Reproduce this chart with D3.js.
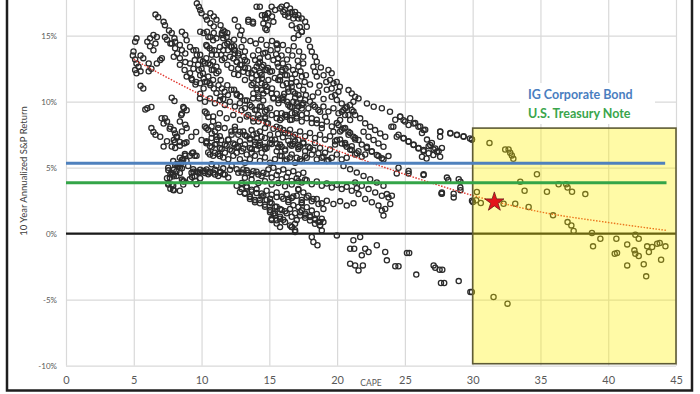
<!DOCTYPE html>
<html>
<head>
<meta charset="utf-8">
<script src="https://cdn.jsdelivr.net/npm/d3@7"></script>
<style>
  body { margin: 0; background: #fff; }
  svg { display: block; }
</style>
</head>
<body>
<svg id="chart" width="700" height="394"></svg>
<script>
// ticks
var xTicks = [0, 5, 10, 15, 20, 25, 30, 35, 40, 45];
var yTicks = [-10, -5, 0, 5, 10, 15, 20];

// reference yields (%)
var igCorporateBond = 5.33;
var treasuryNote = 3.86;

// today's CAPE and the implied return
var currentCape = 31.6;
var currentReturn = 2.4;

// shaded zone
var zoneCape = [30, 45];
var zoneReturn = [-9.85, 8];

// trend curve [CAPE, return %]
var trendPoints = [[5, 13.2], [10, 10.5], [15, 8.2], [20, 6.3], [25, 4.5], [30, 2.9], [35, 1.65], [40, 0.85], [44.3, 0.25]];

// scatter: [CAPE, 10y annualized return %]
var pointsLeft = [
  [5.1,14.55],[5.2,14.8],[4.98,13.8],[4.93,13.5],[5.1,13.2],[5.2,12.9],[5.35,12.65],[5.1,12.4],[5.5,12.3],[5.2,12.15],
  [5.5,13.5],[5.7,13.3],[6.1,12.9],[5.5,11.2],[5.7,11.0],[6.1,12.3],[6.3,12.5],[6.0,14.55],[6.2,14.8],[6.45,15.05],
  [6.7,14.9],[6.6,14.4],[6.2,14.2],[6.45,13.9],[6.7,12.9],[6.95,13.15],[7.07,13.3],[6.6,16.6],[6.8,16.4],[7.2,16.05],
  [7.3,15.8],[7.6,15.4],[7.8,15.2],[8.0,14.8],[8.05,14.55],[7.3,14.9],[7.45,14.7],[7.7,14.4],[6.0,9.5],[6.3,9.6],
  [5.85,9.4],[7.8,10.3],[8.0,10.05],[7.3,8.75],[7.45,8.5],[7.2,8.35],[8.7,9.5],[8.55,9.1],[6.3,8.0],[6.45,7.7],
  [6.6,7.5],[6.95,7.35],[7.2,6.6],[7.45,7.0],[7.7,8.1],[7.95,7.85],[8.05,7.6],[8.2,7.35],[7.95,7.1],[7.8,6.6],
  [8.05,6.5],[8.4,8.5],[8.8,8.25],[8.9,8.0],[8.55,7.75],[8.7,6.85],[8.4,5.75],[8.8,5.9],[8.55,5.6],[9.3,6.1],
  [9.5,5.9],[7.55,4.8],[7.7,4.5],[7.95,4.35],[7.45,4.2],[7.55,3.8],[7.8,3.7],[7.7,3.4],[7.95,3.3],[8.3,5.1],
  [8.55,4.95],[8.4,4.6],[8.55,4.1],[8.7,3.95],[8.05,5.2],[7.95,4.85],[9.4,4.7],[9.65,4.7],[9.9,4.85],[10.25,4.6],
  [10.6,4.7],[11.0,4.85],[11.4,4.7],[11.6,4.95],[12.1,4.85],[9.3,4.3],[9.55,4.0],[9.9,4.2],
  [7.05,8.75],[7.65,7.95],[8.15,7.35],[8.4,6.95],[8.75,6.85]
];

var pointsUpper = [
  [9.65,17.45],[9.8,17.2],[9.9,16.95],[10.0,16.7],[10.3,16.45],[10.4,16.2],[10.65,15.95],[10.9,15.7],[10.65,16.7],[10.9,16.45],
  [11.1,16.2],[11.4,15.8],[11.6,15.4],[9.9,15.3],[10.15,15.2],[10.4,15.3],[10.65,14.9],[10.9,15.2],[11.1,14.8],[11.5,15.05],
  [11.9,15.2],[12.4,14.7],[8.55,15.3],[8.8,15.05],[8.9,14.65],[8.4,14.3],[8.55,13.9],[8.8,13.65],[9.15,14.15],[9.4,13.9],
  [9.65,13.55],[7.8,14.4],[8.05,14.05],[8.2,13.65],[7.95,13.4],[8.4,13.3],[8.8,13.0],[9.15,12.9],[9.4,12.5],[9.8,12.4],
  [9.9,12.0],[10.15,11.75],[10.4,11.5],[10.65,11.25],[10.9,11.0],[9.9,13.15],[10.25,12.9],[10.65,12.8],[10.9,12.4],[11.1,12.15],
  [11.4,11.65],[10.4,14.2],[10.75,13.9],[11.1,13.55],[11.5,13.15],[11.9,12.8],[12.2,12.55],[9.9,11.4],[10.15,11.0],[9.9,10.6],
  [8.9,11.9],[9.3,11.65],[9.55,11.3],[11.1,10.65],[11.4,10.4],[11.6,10.2],[11.9,11.25],[12.4,10.9],[12.6,10.5],[12.4,13.9],
  [12.7,13.5],[12.6,13.0],[12.7,12.5],[12.4,12.1],[11.9,14.4],[12.4,14.2],
  [11.5,15.2],[11.7,15.3],[11.6,14.8],[11.85,14.9],[12.0,14.55],[11.7,14.3],[11.35,14.15],[11.6,13.9],[11.95,13.9],[12.2,14.15],
  [12.45,13.65],[12.1,13.4],[11.7,13.3],[11.45,13.55],[10.5,14.9],[10.85,14.65],[10.35,14.3],[10.6,14.05],[10.95,13.9],[10.75,13.55],
  [10.35,13.3],[10.1,13.05],[10.5,12.9],[10.85,13.05],[11.1,12.65],[10.75,12.4],[11.25,12.3],[9.6,13.9],[9.9,13.55],[9.5,13.15],
  [9.75,12.8],[10.0,12.5],[10.1,12.15],[10.5,11.9],[10.25,11.5],[10.6,11.4],[10.85,11.65],[11.25,11.25],[11.5,11.0],[11.7,10.75],
  [11.95,10.5],[12.2,10.9],[12.6,10.6],[12.85,10.4],[13.2,10.1],[8.4,12.8],[8.75,12.4],[9.15,12.15],[9.25,11.75],[9.6,11.5],
  [12.45,16.2],[12.7,15.7],[12.95,15.4],[12.85,15.05],[13.1,14.65],[12.95,14.15],[13.2,13.8],[13.1,13.4],[13.35,13.05],[12.85,12.8],
  [13.2,12.55],[13.45,12.15],[13.7,11.8],[13.2,11.65],[13.95,13.15],[14.2,12.9],[14.45,12.65],[14.7,12.4],[14.9,12.55],[15.2,12.3],
  [14.05,12.0],[14.45,11.75],[13.45,16.2],[13.8,16.05],[14.45,16.55],[14.7,16.3],[14.9,16.7],[15.2,16.45],[15.3,16.05],[14.9,15.8],
  [14.7,15.55],[15.9,17.2],[16.15,16.95],[16.4,16.7],[16.65,16.8],[16.9,16.55],[17.15,16.3],[17.25,15.65],[17.4,15.3],[17.15,15.05],
  [16.8,14.8],[15.55,14.4],
  [13.6,14.6],[14.0,14.4],[14.4,14.7],[14.8,14.3],[15.2,14.6],[15.6,14.0],[16.0,14.3],[16.4,13.9],[16.8,14.2],[17.2,13.8],
  [13.8,13.5],[14.3,13.3],[14.7,13.7],[15.1,13.9],[15.5,13.6],[15.9,13.5],[16.3,13.2],[16.7,13.5],[17.1,13.1],[17.5,13.4],
  [13.9,12.4],[14.3,12.2],[15.6,12.9],[16.2,12.5],[16.9,12.1],[17.3,12.3],[17.7,12.0],[15.4,11.8],[15.8,11.9],[16.6,11.4],
  [17.2,11.2],[17.6,11.5],[18.0,11.3],[14.1,10.9],[14.8,10.8],[15.3,10.3],[16.1,10.6],[16.9,10.3],[17.7,10.5],[18.2,10.4],
  [18.6,10.7],[19.0,10.2],[18.8,12.6],[19.0,12.0],[19.2,11.5],[18.7,11.2]
];

var pointsCore = [
  [14.2,13.9],[14.55,13.65],[14.9,13.4],[15.3,13.15],[15.65,13.3],[16.0,12.9],[16.4,12.65],[16.75,12.4],[17.15,12.65],[17.5,12.9],
  [15.95,12.4],[16.3,12.0],[16.65,11.75],[17.0,11.5],[17.4,11.9],[15.65,11.65],[16.0,11.25],[16.4,11.0],[16.75,10.75],[17.15,10.5],
  [17.5,10.9],[15.2,11.0],[15.55,10.6],[15.9,10.25],[16.3,10.0],[16.65,9.6],[17.0,9.34],[17.4,9.75],[12.85,10.4],[13.35,10.1],
  [13.8,10.25],[14.2,10.4],[14.55,10.1],[12.95,9.35],[13.45,9.0],[13.8,8.75],[14.2,8.5],[14.7,8.85],[14.9,8.35],[15.3,7.95],
  [15.65,7.55],[16.0,7.3],[16.4,7.05],[16.75,6.8],[17.15,6.55],[17.5,6.9],[10.25,9.25],[10.5,8.85],[10.85,8.5],[11.25,8.25],
  [11.7,8.0],[12.2,7.75],[10.35,8.0],[10.75,7.6],[11.1,7.35],[11.45,7.1],[10.0,7.1],[10.35,6.85],[9.6,7.7],[9.25,7.35],
  [8.65,9.6],[8.9,9.35],[8.5,9.0],
  [13.69,9.62],[14.06,9.37],[14.43,9.62],[14.8,9.37],[14.19,8.99],[14.68,8.74],[15.17,8.99],[15.54,8.74],[15.91,9.12],[16.28,8.86],
  [16.65,9.12],[17.02,8.74],[17.39,8.99],[12.46,8.11],[12.83,7.73],[13.2,7.47],[13.57,7.22],[13.94,6.97],[14.31,6.72],[14.68,6.59],
  [15.17,7.1],[15.54,6.84],[15.91,6.59],[13.69,7.85],[14.06,7.6],[14.43,7.35],[11.97,7.1],[12.34,6.84],[12.71,6.59],[13.08,6.46],
  [13.69,11.26],[14.06,11.01],[14.43,11.39],[14.8,11.14],[15.17,10.63],[13.82,10.63],[14.19,10.25],[14.56,10.63],
  [12.22,14.17],[12.46,13.91],[12.71,13.66],[12.34,13.28],[12.59,13.03],[12.96,12.78],[13.2,13.16],[13.45,12.53],[13.08,12.27],[12.71,12.02],
  [13.7,12.15],[14.06,12.65],[14.31,13.03],[14.56,12.78],[14.8,12.4],[14.43,12.02],[14.19,11.64],[13.82,11.39],[15.05,12.27],[14.93,11.64],
  [14.68,11.26],[14.43,10.88],
  [15.67,12.65],[15.91,12.27],[16.16,12.02],[15.79,11.64],[16.28,11.39],[16.65,11.14],[16.4,10.76],[16.03,10.38],[15.67,10.13],[16.9,10.63],
  [17.27,10.25],[17.64,10.13],[18.0,10.0],[18.37,9.62],[18.74,9.24],[19.11,8.86],[17.02,9.87],[17.39,9.49],[17.76,9.12],[18.13,8.74],
  [18.5,8.36],[18.87,7.98],[16.53,9.62],[16.9,9.12],[16.53,8.61],[16.16,8.99],[15.79,8.61],[15.54,8.11],[16.03,7.85],[16.4,7.6],
  [16.77,7.35],[17.14,7.1],[17.51,6.84],[17.88,6.59],[18.25,6.34],[18.62,6.09],[18.99,5.83],[19.36,5.58],
  [19.6,10.38],[19.98,10.13],[20.34,9.87],[20.71,9.62],[21.08,9.37],[20.59,8.99],[20.22,8.61],[20.96,8.61],[21.33,8.99],[21.7,8.74],
  [22.07,8.36],[22.44,8.11],[22.8,7.85],[23.18,7.6],[23.55,7.35],[21.95,7.73],[22.32,7.35],[22.69,7.1],[23.05,6.84],[23.42,6.59],
  [21.58,7.1],[21.2,7.35],[20.84,7.73],[20.47,7.98],[20.1,8.23],[19.73,7.73],[19.98,7.1],[20.34,6.84],[20.71,6.59],[21.08,6.34],
  [21.45,6.09],[21.82,5.83],[22.2,6.59],[22.56,6.21],[22.93,5.96],[23.3,5.71]
];

var pointsMiddle = [
  [10.25,8.13],[10.49,7.88],[10.74,8.13],[10.99,7.75],[11.23,8.0],[11.35,7.38],[11.11,7.13],[10.74,7.25],[10.37,7.0],[10.62,6.63],
  [10.99,6.75],[11.35,6.5],[11.72,6.75],[11.97,7.13],[12.22,7.5],[12.46,7.88],[12.71,7.5],[13.08,7.75],[13.33,7.38],[13.57,7.13],
  [13.82,7.5],[14.06,7.25],[14.31,6.88],[13.94,6.75],[13.57,6.5],[13.2,6.75],[12.83,7.0],[12.46,6.75],[12.09,6.38],[11.72,6.13],
  [11.35,5.88],[10.99,6.13],[10.62,6.0],[12.59,6.13],[12.96,6.25],[13.33,6.0],[13.69,6.13],[14.06,6.38],[14.43,6.13],[14.8,6.5],
  [15.05,6.88],[14.68,7.25],[14.31,7.75],[14.68,8.0],[15.05,7.5],[15.42,7.13],[15.79,6.75],[16.16,6.38],[16.53,6.75],[16.9,7.0],
  [17.27,6.63],[17.64,6.25],[18.0,6.5],[18.37,6.88],[18.74,6.5],[19.11,6.13],[19.48,6.38],[19.85,6.75],[20.22,7.13],[20.59,6.75],
  [20.96,6.38],[21.33,6.0],[15.54,6.25],[15.91,5.88],[16.28,5.63],[16.65,6.0],[17.02,5.75],[17.39,5.5],[17.76,5.75],[18.13,6.0],
  [18.5,5.63],[18.87,5.75],[19.24,5.5],[19.61,5.75],[19.98,6.0],[20.34,5.63],[20.71,5.75],
  [15.3,10.25],[15.67,9.88],[16.03,10.13],[16.4,9.75],[16.77,10.0],[17.14,9.63],[17.51,9.88],[17.88,9.5],[18.25,9.75],[18.62,9.38],
  [18.99,9.63],[19.36,9.25],[19.73,9.5],[20.1,9.13],[20.47,9.38],[20.84,9.0],[21.21,9.25],[15.54,9.13],[15.91,8.75],[16.28,9.0],
  [16.65,8.63],[17.02,8.88],[17.39,8.5],[17.76,8.75],[18.13,8.38],[18.5,8.63],[18.87,8.25],[19.24,8.5],[19.61,8.13],[19.98,8.38],
  [15.79,8.0],[16.16,7.63],[16.53,7.88],[16.9,7.5],[17.27,7.75],[17.64,7.38],[18.0,7.63],[18.37,7.25],[18.74,7.5],[19.11,7.13],
  [19.48,7.38],[19.85,7.0],[20.22,7.75],[20.59,8.0],[20.96,7.63],[21.33,7.25],
  [9.88,10.25],[10.25,10.0],[10.62,10.25],[10.99,9.88],[11.35,10.13],[11.72,9.75],[12.09,10.0],[12.46,9.63],[12.83,9.88],[13.2,9.5],
  [13.57,9.75],[13.94,9.38],[14.31,9.63],[14.68,9.25],[15.05,9.5],[10.37,9.13],[10.86,8.88],[11.35,9.13],[11.85,8.75],[12.34,9.0],
  [12.83,8.63],[13.33,8.88],[13.82,8.5],[14.31,8.75],[14.8,8.38]
];

var pointsUpperRight = [
  [14.06,17.2],[14.3,17.2],[14.68,16.57],[14.93,16.7],[15.17,17.2],[15.42,16.95],[15.79,17.07],[16.03,16.8],[16.28,17.3],[16.53,17.07],
  [16.9,16.8],[17.14,16.57],[17.39,16.3],[17.64,16.06],[17.76,15.68],[17.39,15.3],[17.02,15.55],[16.65,15.8],[16.77,16.3],[16.4,16.44],
  [16.16,16.57],[14.8,16.3],[14.56,15.93],[14.8,15.43],[13.45,16.06],[13.8,15.93],
  [17.88,14.67],[18.0,14.17],[18.13,13.79],[18.37,13.4],[18.5,13.03],[18.25,12.65],[18.37,12.27],[18.5,11.9],[15.54,14.3],
  [19.36,12.4],[19.6,12.15],[19.48,11.64],[19.73,11.4],[19.97,11.5],[20.2,11.14],[20.1,10.76],[19.85,10.5],[19.24,10.9],[19.6,11.0],
  [20.84,10.88],[21.08,10.63],[21.33,10.38],[21.58,10.25],[21.2,10.0],[20.96,9.75],[20.6,9.5],[20.35,9.24],
  [22.2,9.87],[22.7,9.62],[23.3,9.5],[23.9,9.24],
  [24.15,8.1],[24.64,8.86],[24.9,8.6],[25.27,8.23],[25.64,8.35],[26.0,8.1],[26.38,7.85],
  [27.6,7.72],[28.35,7.6],[28.84,7.47],[29.33,7.35],[27.6,7.35],[29.8,7.22],
  [24.4,7.35],[24.9,7.22],[25.27,6.97],[25.64,6.72],[26.0,6.46],[26.38,6.34],[26.75,6.09],[27.1,5.96],[27.36,6.2],[26.87,6.72],
  [27.24,6.46],[26.26,5.83],[26.6,5.7],[27.6,5.83],[24.4,4.57],[25.27,4.57],[26.38,4.44],[28.2,4.06],[29.1,3.94],[27.7,3.05],
  [29.1,3.3],[24.0,8.1],
  [24.29,8.63],[24.66,8.88],[25.02,8.5],[25.39,8.75],[25.76,8.38],[26.13,8.13],[24.53,7.5],[24.9,7.25],[25.27,7.0],[25.64,6.75],
  [26.01,6.5],[26.38,6.25],[26.75,6.63],[27.12,6.38],[27.49,6.25],[27.73,6.5],[26.63,7.13],[26.99,6.88],[26.26,7.63],[26.5,7.88],
  [28.35,7.63],[28.84,7.5]
];

var pointsLower = [
  [7.54,5.0],[7.78,4.62],[7.66,4.23],[7.9,4.49],[8.15,4.74],[8.4,5.0],[7.54,3.72],[7.9,3.33],[8.65,3.72],[8.15,5.26],
  [8.52,5.38],[8.89,5.51],[9.14,5.9],[9.38,6.15],[9.63,5.9],[9.26,4.62],[9.5,4.36],[9.88,4.62],[10.25,4.74],[10.62,4.62],
  [10.99,4.49],[11.35,4.62],[11.72,4.49],[11.1,5.13],[10.74,5.26],[10.37,4.87],[8.77,6.03],[8.03,6.92],[8.4,6.67],[8.89,6.92],
  [10.37,6.92],[10.74,6.54],[11.1,6.79],[11.48,6.41],[11.85,6.67],[12.22,6.28],[12.59,6.54],[10.49,6.15],[10.86,5.9],[11.23,6.03],
  [11.6,5.77],[11.97,5.64],[12.34,5.9],
  [12.71,4.62],[13.08,4.87],[13.45,4.62],[13.82,4.74],[14.19,4.49],[14.56,4.62],[14.93,4.87],[15.3,5.0],[15.67,4.74],[16.03,4.87],
  [16.4,4.62],[16.77,4.74],[17.14,4.49],[17.51,4.62],
  [12.96,3.85],[13.33,3.59],[13.69,3.33],[14.06,3.08],[14.43,2.82],[14.8,2.56],[15.17,2.31],[15.54,2.05],[15.91,1.79],[16.28,1.54],
  [16.65,1.28],[17.02,1.03],[13.2,3.08],[13.57,2.82],[13.94,2.56],[14.31,2.31],[14.68,2.05],[15.05,1.79],[15.42,1.54],[15.79,1.28],
  [15.17,1.03],[15.54,0.77],[16.65,0.51],[16.9,0.26],[17.14,3.33],[16.77,2.82],[16.4,2.56],[17.39,2.31],
  [12.83,5.64],[13.2,5.38],[13.57,5.64],[13.94,5.9],[14.31,5.51],[14.68,5.77],[15.05,5.38],[15.42,5.64],[15.79,5.9],[16.16,5.51],
  [16.53,5.77],[16.9,5.38],[17.27,5.64],[17.64,5.9],[13.69,6.41],[14.19,6.67],[14.68,6.41],[15.17,6.79],[15.67,6.54],[16.16,6.28],
  [16.65,6.67],[17.14,6.41],
  [13.2,4.23],[13.69,4.1],[14.19,3.85],[14.68,3.97],[15.17,3.72],[15.67,3.85],[16.16,3.59],[16.65,3.72],[17.14,3.97],[17.64,4.1],
  [17.14,3.38],[17.51,3.13],[17.88,2.88],[18.25,2.63],[18.62,2.25],[18.99,1.88],[17.39,2.38],[17.76,2.0],[18.13,1.75],[18.5,1.5],
  [18.87,1.13],[17.27,1.63],[17.64,1.38],[18.0,1.0],[18.37,0.75],[18.74,0.63],
  [20.34,7.88],[20.84,7.5],[21.33,7.13],[21.82,6.75],[22.19,6.5],[22.56,6.25],[23.05,5.88],[23.42,5.63],[23.79,5.88],[20.59,6.88],
  [21.08,6.63],[21.58,6.25],[22.07,6.0],[20.47,5.13],[20.96,4.88],[21.45,4.63],[21.95,4.38],[22.44,4.13],[22.93,3.88],[23.42,3.63],
  [21.33,3.88],[21.82,3.63],[22.32,3.38],[22.81,3.13],[23.3,2.88],[23.79,2.75],[21.58,3.0],[22.07,2.63],[22.56,2.38],[23.05,2.13],
  [23.55,1.88],[23.92,2.25],[24.04,2.88],[23.3,1.75],[23.42,1.38],[23.67,3.0],
  [24.53,5.0],[25.27,4.75],[26.38,4.5],[27.73,3.13],[28.1,4.25],[28.6,2.75],[28.97,4.13],[29.09,3.5],[29.95,2.5],
  [27.61,7.75],[29.33,7.38],[29.95,7.13],
  [15.05,1.77],[15.3,1.52],[15.17,1.14],[15.54,1.01],[16.03,1.06],[16.65,0.51],[16.9,0.13],[18.13,-0.25],[18.25,-0.63],[18.55,-0.88],
  [18.87,0.25],[18.74,0.63],[18.99,0.88],[18.62,0.88],[18.37,1.14],[18.0,1.26],[17.64,1.52],[17.39,1.77],[17.14,2.02],[16.77,2.15],
  [16.4,2.4],[16.03,2.65],[15.54,2.78],[15.05,2.65],[14.56,2.9],[13.94,2.53],[13.57,2.78],[13.2,3.03],[12.83,3.16]
];

var pointsBand = [
  [12.22,5.13],[12.59,4.88],[12.96,4.63],[13.33,4.8],[13.69,4.5],[14.06,4.7],[14.43,4.38],[14.8,4.55],[15.17,4.25],[15.54,4.45],
  [15.91,4.13],[16.28,4.3],[16.65,4.0],[17.02,4.2],[17.39,3.88],[17.76,4.05],[18.13,3.75],[18.5,3.95],[18.87,3.63],[19.24,3.8],
  [19.61,3.5],[19.98,3.7],[20.34,3.38],[20.71,3.55],[21.08,3.25],[21.45,3.45],
  [12.59,3.63],[12.96,3.38],[13.33,3.5],[13.69,3.2],[14.06,3.38],[14.43,3.05],[14.8,3.25],[15.17,2.95],[15.54,3.13],[15.91,2.8],
  [16.28,3.0],[16.65,2.7],[17.02,2.88],[17.39,2.55],[17.76,2.75],[18.13,2.45],[18.5,2.63],[18.87,2.3],[19.24,2.5],[19.73,2.25],
  [20.22,2.45],[20.71,2.13],[21.21,2.3],
  [13.57,2.63],[13.94,2.38],[14.31,2.55],[14.68,2.2],[15.05,2.38],[15.42,2.05],[15.79,1.88],[16.16,1.7],[16.53,1.88],[16.9,1.55],
  [17.27,1.38],[17.64,1.2],[18.0,1.38],[18.37,1.05],[18.74,0.88],[15.05,1.63],[15.42,1.38],[15.79,1.13],[16.16,0.88],[16.53,0.63],
  [16.9,0.75],[15.79,0.5],
  [7.91,5.5],[8.28,5.25],[8.65,5.63],[9.01,5.13],[9.38,4.88],[9.75,4.63],[10.12,4.75],[10.49,4.5],[10.86,4.63],[11.23,4.38],
  [11.6,4.5],[11.97,4.25],[8.15,4.38],[8.65,4.0],[9.14,4.13],[9.63,3.75],[7.91,3.63],[8.4,3.25]
];

var pointsNegative = [
  [19.98,-0.13],[21.2,-0.5],[21.7,-0.25],[20.96,-1.14],[21.26,-1.14],[22.07,-1.14],[22.32,-1.39],[21.82,-1.64],[22.93,-0.88],[23.55,-1.39],
  [23.67,-2.02],[24.29,-2.47],[24.53,-2.47],[25.15,-1.46],[25.32,-1.46],[20.96,-2.27],[21.33,-2.4],[21.58,-2.78],[21.9,-2.4],[25.84,-3.1],
  [27.12,-2.4],[27.24,-2.58],[27.56,-2.73],[27.76,-2.73],[27.66,-3.74],[27.9,-3.74],[28.97,-3.59],[29.83,-4.42],[28.6,3.03],[27.73,3.03]
];

var pointsZone = [
  [29.94,7.13],[31.24,6.88],[32.4,6.38],[32.65,6.38],[32.77,6.13],[32.89,5.93],[33.0,5.68],[34.74,4.5],[33.51,3.93],[33.83,3.25],
  [35.48,3.18],[36.34,3.75],[36.9,3.75],[37.0,3.5],[37.33,3.18],[38.31,3.0],[30.31,3.16],[30.02,2.4],[30.26,2.53],[30.6,2.33],
  [32.28,2.27],[33.14,2.27],[34.13,2.02],[35.93,1.39],[37.0,0.88],[37.28,0.63],[37.45,0.2],[38.8,0.05],[39.42,-0.38],[38.88,-0.96],
  [40.6,-0.38],[41.4,-0.81],[40.48,-1.52],[40.65,-1.46],[41.4,-2.4],[42.0,-0.08],[42.25,-0.38],[41.93,-1.26],[42.0,-1.52],[42.25,-1.69],
  [42.62,-2.32],[42.8,-3.23],[42.87,-0.96],[43.0,-1.39],[43.24,-1.01],[43.61,-0.76],[43.8,-0.71],[44.22,-0.96],[43.9,-1.97],[29.94,-4.42],
  [31.54,-4.8],[32.57,-5.3]
];

var allPoints = pointsLeft.concat(pointsUpper, pointsCore, pointsMiddle, pointsUpperRight, pointsLower, pointsBand, pointsNegative, pointsZone);

var svg = d3.select("#chart");

var x = d3.scaleLinear().domain([0, 45]).range([66, 676]);
var y = d3.scaleLinear().domain([-10, 20]).range([365.7, -30.3]);

// outer frame
svg.append("rect")
    .attr("x", 7).attr("y", -10)
    .attr("width", 685).attr("height", 400.5)
    .attr("fill", "#fff")
    .attr("stroke", "#1e1e1e")
    .attr("stroke-width", 2.5);

// grid
svg.append("g")
    .attr("transform", "translate(0," + y(-10) + ")")
    .call(d3.axisBottom(x).tickValues(xTicks).tickSize(-(y(-10) - y(20))).tickFormat(""))
    .call(function(g){
        g.select(".domain").remove();
        g.selectAll("line").attr("stroke", "#d9d9d9").attr("stroke-width", 1.2);
    });
svg.append("g")
    .attr("transform", "translate(" + x(0) + ",0)")
    .call(d3.axisLeft(y).tickValues(yTicks).tickSize(-(x(45) - x(0))).tickFormat(""))
    .call(function(g){
        g.select(".domain").remove();
        g.selectAll("line").attr("stroke", "#d9d9d9").attr("stroke-width", 1.2);
    });

// white patch behind the legend
svg.append("rect")
    .attr("x", 520).attr("y", 83)
    .attr("width", 135).attr("height", 41)
    .attr("fill", "#fff");

// tick labels
svg.append("g")
    .attr("transform", "translate(" + x(0) + ",0)")
    .call(d3.axisLeft(y).tickValues(yTicks.filter(function(d){ return d < 20; }))
        .tickSize(0).tickPadding(9).tickFormat(function(d){ return d + "%"; }))
    .call(function(g){
        g.select(".domain").remove();
        g.selectAll("text")
            .attr("fill", "#595959")
            .style("font-family", "Lato, 'Open Sans', sans-serif")
            .style("font-size", "8px");
    });
svg.append("g")
    .attr("transform", "translate(0," + y(-10) + ")")
    .call(d3.axisBottom(x).tickValues(xTicks).tickSize(0).tickPadding(11))
    .call(function(g){
        g.select(".domain").remove();
        g.selectAll("text")
            .attr("fill", "#595959")
            .style("font-family", "Lato, 'Open Sans', sans-serif")
            .style("font-size", "11px");
    });

svg.append("text")
    .attr("x", 371).attr("y", 386)
    .attr("text-anchor", "middle")
    .attr("fill", "#595959")
    .style("font-family", "Lato, 'Open Sans', sans-serif")
    .style("font-size", "8.5px")
    .text("CAPE");

svg.append("text")
    .attr("transform", "translate(27,171) rotate(-90)")
    .attr("text-anchor", "middle")
    .attr("fill", "#404040")
    .style("font-family", "Lato, 'Open Sans', sans-serif")
    .style("font-size", "9.5px")
    .text("10 Year Annualized S&P Return");

// zero line
svg.append("line")
    .attr("x1", x(0)).attr("x2", x(45))
    .attr("y1", y(0)).attr("y2", y(0))
    .attr("stroke", "#1a1a1a")
    .attr("stroke-width", 2.2);

// scatter
svg.append("g")
    .selectAll("circle")
    .data(allPoints)
    .enter()
    .append("circle")
    .attr("cx", function(d){ return x(d[0]); })
    .attr("cy", function(d){ return y(d[1]); })
    .attr("r", 2.6)
    .attr("fill", "none")
    .attr("stroke", "#2b2b2b")
    .attr("stroke-width", 1.3);

// trend
svg.append("path")
    .datum(trendPoints)
    .attr("d", d3.line()
        .x(function(d){ return x(d[0]); })
        .y(function(d){ return y(d[1]); })
        .curve(d3.curveMonotoneX))
    .attr("fill", "none")
    .attr("stroke", "#e0352d")
    .attr("stroke-width", 1.4)
    .attr("stroke-dasharray", "1.5,1.5");

// highlighted zone
svg.append("rect")
    .attr("x", x(zoneCape[0]))
    .attr("y", y(zoneReturn[1]))
    .attr("width", x(zoneCape[1]) - x(zoneCape[0]))
    .attr("height", y(zoneReturn[0]) - y(zoneReturn[1]))
    .attr("fill", "#fff200")
    .attr("fill-opacity", 0.35)
    .attr("stroke", "#5e5b35")
    .attr("stroke-width", 1.6);

// bond lines
svg.append("line")
    .attr("x1", x(0)).attr("x2", x(44.2))
    .attr("y1", y(igCorporateBond)).attr("y2", y(igCorporateBond))
    .attr("stroke", "#4f81bd")
    .attr("stroke-width", 3);
svg.append("line")
    .attr("x1", x(0)).attr("x2", x(44.3))
    .attr("y1", y(treasuryNote)).attr("y2", y(treasuryNote))
    .attr("stroke", "#34a548")
    .attr("stroke-width", 3);

// current CAPE star
svg.append("path")
    .attr("d", d3.symbol().type(d3.symbolStar).size(115)())
    .attr("transform", "translate(" + x(currentCape) + "," + y(currentReturn) + ")")
    .attr("fill", "#e3141b")
    .attr("stroke", "#6b1a1a")
    .attr("stroke-width", 0.8);

// legend
svg.append("text")
    .attr("x", 528).attr("y", 98.5)
    .attr("fill", "#4a7ebf")
    .style("font-family", "Lato, 'Open Sans', sans-serif")
    .style("font-weight", "bold")
    .style("font-size", "12.5px")
    .text("IG Corporate Bond");
svg.append("text")
    .attr("x", 528).attr("y", 117.5)
    .attr("fill", "#3aa54c")
    .style("font-family", "Lato, 'Open Sans', sans-serif")
    .style("font-weight", "bold")
    .style("font-size", "12.5px")
    .text("U.S. Treasury Note");
</script>
</body>
</html>
